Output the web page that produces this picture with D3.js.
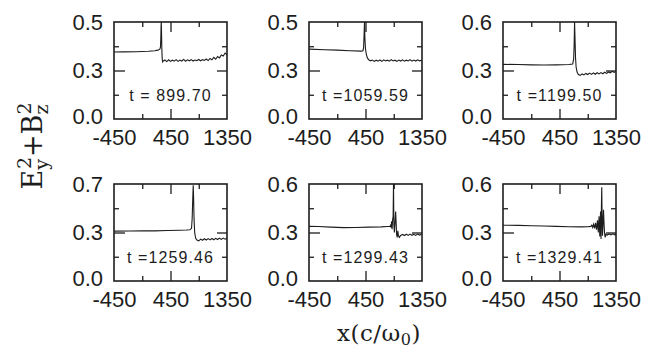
<!DOCTYPE html>
<html>
<head>
<meta charset="utf-8">
<script src="https://cdn.jsdelivr.net/npm/d3@7"></script>
<style>
  body { margin: 0; background: #fff; }
  svg { display: block; }
</style>
</head>
<body>
<div id="chart"></div>
<script>
// panel labels and y ranges
const times = ["t = 899.70", "t =1059.59", "t =1199.50", "t =1259.46", "t =1299.43", "t =1329.41"];
const yMaxes = [0.5, 0.5, 0.6, 0.7, 0.6, 0.6];
const yTickText = [
  ["0.0", "0.3", "0.5"],
  ["0.0", "0.3", "0.5"],
  ["0.0", "0.3", "0.6"],
  ["0.0", "0.3", "0.7"],
  ["0.0", "0.3", "0.6"],
  ["0.0", "0.3", "0.6"]
];
const xLabelTicks = [-450, 450, 1350];
const xMinorTicks = [0, 900];

// E_y^2 + B_z^2 profiles, [x, value]
const wave1 = [
  [-450, 0.345], [-300, 0.346], [-100, 0.347], [100, 0.349], [200, 0.352], [250, 0.355],
  [280, 0.36], [290, 0.37], [296, 0.42], [300, 0.48], [303, 0.5], [307, 0.45], [312, 0.36],
  [318, 0.31], [325, 0.295], [330, 0.298], [360, 0.304], [390, 0.296], [420, 0.305],
  [450, 0.297], [480, 0.303], [510, 0.298], [540, 0.306], [570, 0.297], [600, 0.304],
  [630, 0.299], [660, 0.307], [690, 0.298], [720, 0.305], [750, 0.300], [780, 0.306],
  [810, 0.299], [840, 0.304], [870, 0.301], [900, 0.307], [930, 0.300], [960, 0.306],
  [990, 0.302], [1020, 0.309], [1050, 0.301], [1080, 0.312], [1110, 0.305], [1140, 0.318],
  [1170, 0.308], [1200, 0.322], [1230, 0.315], [1260, 0.330], [1290, 0.325], [1320, 0.340],
  [1350, 0.330]
];
const wave2 = [
  [-450, 0.36], [-200, 0.357], [0, 0.355], [200, 0.352], [380, 0.35], [410, 0.352],
  [420, 0.37], [428, 0.44], [434, 0.5], [440, 0.42], [450, 0.36], [465, 0.33], [480, 0.315],
  [500, 0.305], [530, 0.30], [560, 0.304], [590, 0.297], [620, 0.303], [650, 0.298],
  [680, 0.304], [710, 0.297], [740, 0.305], [770, 0.299], [800, 0.303], [830, 0.298],
  [860, 0.306], [890, 0.299], [920, 0.303], [950, 0.297], [980, 0.304], [1010, 0.299],
  [1040, 0.305], [1070, 0.298], [1100, 0.303], [1130, 0.299], [1160, 0.306], [1190, 0.298],
  [1220, 0.304], [1250, 0.299], [1280, 0.305], [1310, 0.300], [1350, 0.303]
];
const wave3 = [
  [-450, 0.338], [-200, 0.337], [0, 0.335], [200, 0.334], [400, 0.335], [600, 0.337],
  [660, 0.34], [675, 0.37], [683, 0.45], [690, 0.6], [697, 0.5], [705, 0.38], [715, 0.32],
  [730, 0.29], [750, 0.275], [780, 0.27], [810, 0.279], [840, 0.273], [870, 0.282],
  [900, 0.275], [930, 0.284], [960, 0.276], [990, 0.285], [1020, 0.277], [1050, 0.286],
  [1080, 0.279], [1110, 0.287], [1140, 0.280], [1170, 0.289], [1200, 0.282], [1230, 0.291],
  [1260, 0.286], [1290, 0.295], [1320, 0.288], [1350, 0.294]
];
const wave4 = [
  [-450, 0.36], [-200, 0.361], [0, 0.362], [200, 0.362], [400, 0.364], [600, 0.366],
  [700, 0.368], [760, 0.37], [785, 0.38], [795, 0.45], [805, 0.6], [812, 0.69], [818, 0.6],
  [825, 0.45], [835, 0.35], [850, 0.31], [870, 0.295], [900, 0.29], [930, 0.302],
  [960, 0.294], [990, 0.305], [1020, 0.296], [1050, 0.306], [1080, 0.297], [1110, 0.307],
  [1140, 0.298], [1170, 0.308], [1200, 0.299], [1230, 0.309], [1260, 0.300], [1290, 0.310],
  [1320, 0.302], [1350, 0.308]
];
const wave5 = [
  [-450, 0.338], [-300, 0.337], [-100, 0.333], [100, 0.330], [300, 0.331], [500, 0.333],
  [700, 0.335], [800, 0.337], [840, 0.338], [850, 0.345], [858, 0.33], [866, 0.37],
  [874, 0.32], [882, 0.38], [890, 0.40], [896, 0.6], [902, 0.35], [910, 0.30], [920, 0.36],
  [930, 0.43], [938, 0.36], [945, 0.29], [955, 0.27], [965, 0.31], [975, 0.28], [990, 0.27],
  [1010, 0.282], [1040, 0.288], [1070, 0.281], [1100, 0.289], [1130, 0.282], [1160, 0.290],
  [1190, 0.283], [1220, 0.289], [1250, 0.282], [1280, 0.290], [1310, 0.284], [1350, 0.289]
];
const wave6 = [
  [-450, 0.345], [-200, 0.344], [0, 0.342], [200, 0.340], [400, 0.338], [600, 0.336],
  [800, 0.335], [900, 0.336], [950, 0.338], [965, 0.346], [980, 0.331], [995, 0.351],
  [1010, 0.326], [1025, 0.36], [1040, 0.318], [1055, 0.375], [1068, 0.30], [1080, 0.40],
  [1092, 0.275], [1104, 0.43], [1112, 0.26], [1118, 0.47], [1123, 0.58], [1129, 0.38],
  [1135, 0.28], [1143, 0.36], [1151, 0.44], [1159, 0.36], [1167, 0.30], [1177, 0.27],
  [1190, 0.29], [1210, 0.284], [1240, 0.291], [1270, 0.285], [1300, 0.292], [1330, 0.286],
  [1350, 0.29]
];
const waves = [wave1, wave2, wave3, wave4, wave5, wave6];

const width = 653, height = 352;
const pw = 113, ph = 97;
const lefts = [114, 309, 503];
const tops = [22, 184];
const ink = "#1d1d1d";

const svg = d3.select("#chart").append("svg")
  .attr("width", width)
  .attr("height", height);

const x = d3.scaleLinear().domain([-450, 1350]).range([0, pw]);

waves.forEach((data, i) => {
  const g = svg.append("g")
    .attr("transform", `translate(${lefts[i % 3]},${tops[Math.floor(i / 3)]})`);
  const ymax = yMaxes[i];
  const y = d3.scaleLinear().domain([0, ymax]).range([ph, 0]);

  g.append("clipPath").attr("id", "clip" + i)
    .append("rect").attr("width", pw).attr("height", ph);

  g.append("path")
    .datum(data)
    .attr("clip-path", `url(#clip${i})`)
    .attr("fill", "none")
    .attr("stroke", ink)
    .attr("stroke-width", 1.1)
    .attr("d", d3.line().x(d => x(d[0])).y(d => y(d[1])));

  // inward ticks on all four sides
  const tickAxes = [
    [d3.axisBottom(x).tickValues(xMinorTicks).tickSize(-5), `translate(0,${ph})`],
    [d3.axisBottom(x).tickValues([450]).tickSize(-10), `translate(0,${ph})`],
    [d3.axisTop(x).tickValues(xMinorTicks).tickSize(-5), null],
    [d3.axisTop(x).tickValues([450]).tickSize(-10), null],
    [d3.axisLeft(y).tickValues([ymax / 4, ymax * 3 / 4]).tickSize(-5), null],
    [d3.axisLeft(y).tickValues([ymax / 2]).tickSize(-11), null],
    [d3.axisRight(y).tickValues([ymax / 4, ymax * 3 / 4]).tickSize(-5), `translate(${pw},0)`],
    [d3.axisRight(y).tickValues([ymax / 2]).tickSize(-10), `translate(${pw},0)`]
  ];
  tickAxes.forEach(([ax, tr]) => {
    const a = g.append("g").call(ax.tickFormat(""));
    if (tr) a.attr("transform", tr);
    a.select(".domain").remove();
    a.selectAll("line").attr("stroke", ink).attr("stroke-width", 1.3);
  });

  g.append("rect")
    .attr("width", pw).attr("height", ph)
    .attr("fill", "none")
    .attr("stroke", ink)
    .attr("stroke-width", 1.6);

  // tick labels
  const xl = g.append("g")
    .attr("transform", `translate(0,${ph})`)
    .call(d3.axisBottom(x).tickValues(xLabelTicks).tickSize(0).tickPadding(10).tickFormat(d => String(d)));
  xl.select(".domain").remove();
  xl.selectAll("text")
    .attr("font-family", "Liberation Sans, Arial, sans-serif")
    .attr("font-size", 22)
    .attr("fill", ink);

  const yl = g.append("g")
    .call(d3.axisLeft(y).tickValues([0, ymax / 2, ymax]).tickSize(0).tickPadding(11)
      .tickFormat((d, k) => yTickText[i][k]));
  yl.select(".domain").remove();
  yl.selectAll("text")
    .attr("font-family", "Liberation Sans, Arial, sans-serif")
    .attr("font-size", 22)
    .attr("fill", ink);
  // lift the "0.0" label a little, as in the reference
  yl.selectAll("text").filter((d, k) => k === 0).attr("dy", "0.2em");

  g.append("text")
    .attr("x", pw / 2)
    .attr("y", y(ymax / 4) + 1)
    .attr("dy", "0.35em")
    .attr("text-anchor", "middle")
    .attr("font-family", "Liberation Sans, Arial, sans-serif")
    .attr("font-size", 16)
    .attr("letter-spacing", 1.1)
    .attr("fill", ink)
    .text(times[i]);
});

// axis titles
const yt = svg.append("text")
  .attr("transform", "translate(42,146) rotate(-90)")
  .attr("text-anchor", "middle")
  .attr("font-family", "DejaVu Serif, serif")
  .attr("font-size", 27)
  .attr("fill", ink);
yt.append("tspan").text("E");
yt.append("tspan").attr("font-size", 19).attr("dy", 6).text("y");
yt.append("tspan").attr("font-size", 19).attr("dx", -10).attr("dy", -17).text("2");
yt.append("tspan").attr("dy", 11).text("+B");
yt.append("tspan").attr("font-size", 19).attr("dy", 6).text("z");
yt.append("tspan").attr("font-size", 19).attr("dx", -10).attr("dy", -17).text("2");

const xt = svg.append("text")
  .attr("x", 379)
  .attr("y", 341)
  .attr("text-anchor", "middle")
  .attr("font-family", "DejaVu Serif, serif")
  .attr("font-size", 23)
  .attr("letter-spacing", 0.5)
  .attr("fill", ink);
xt.append("tspan").text("x(c/ω");
xt.append("tspan").attr("font-size", 16).attr("dy", 4).text("0");
xt.append("tspan").attr("dy", -4).text(")");
</script>
</body>
</html>
